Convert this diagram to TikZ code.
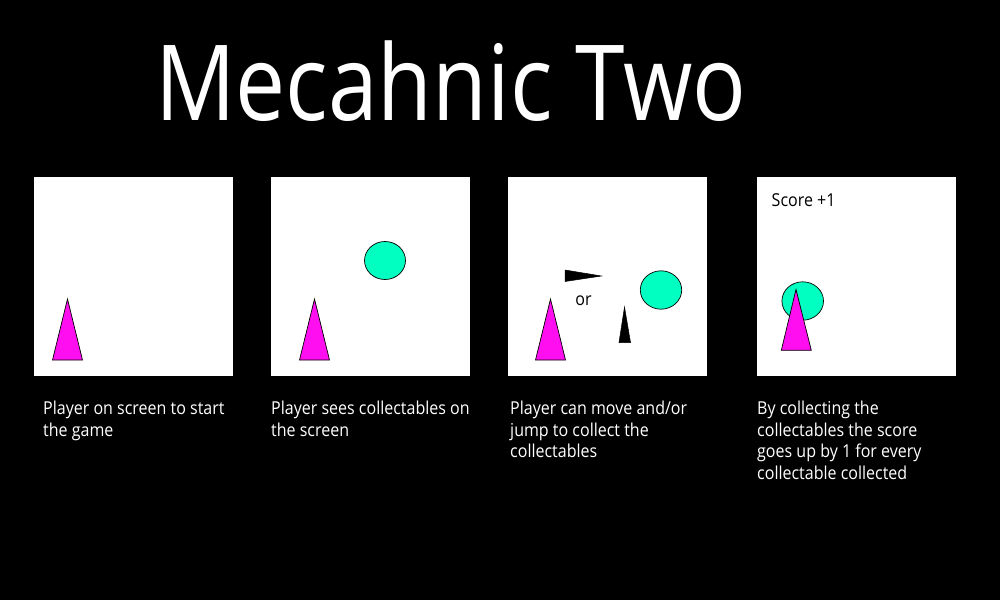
\documentclass[tikz,border=0pt]{standalone}
\usepackage{fontspec}
\setmainfont[FakeStretch=0.9]{Open Sans}
\newfontfamily\titlefont[FakeStretch=0.85]{Open Sans}
\definecolor{mag}{HTML}{FF0FF0}
\definecolor{mint}{HTML}{00FFC0}
\tikzset{
  panel/.style={fill=white, draw=none},
  player/.style={fill=mag, draw=black, line width=0.7pt, line join=miter},
  coin/.style={fill=mint, draw=black, line width=0.7pt},
  dart/.style={fill=black, draw=black, line width=0.5pt},
  caption/.style={anchor=base west, inner sep=0pt, text=white, font=\fontsize{17.8}{21.7}\selectfont},
}
\begin{document}
\begin{tikzpicture}[x=1pt,y=-1pt]
\fill[black] (0,0) rectangle (1000,600);
\useasboundingbox (0,0) rectangle (1000,600);
% title
\node[anchor=base west, inner sep=0pt, text=white, font=\titlefont\fontsize{105}{105}\selectfont] (title) at (155,120) {Mecahnic Two};
% panels
\fill[panel] (34,177) rectangle (233,376);
\fill[panel] (271,177) rectangle (470,376);
\fill[panel] (508,177) rectangle (707,376);
\fill[panel] (757,177) rectangle (956,376);
% panel 1
\draw[player] (67.5,299) -- (82.5,360) -- (52.5,360) -- cycle;
% panel 2
\draw[coin] (385,260.5) ellipse [x radius=20.5, y radius=19];
\draw[player] (314.5,299) -- (329.5,360) -- (299.5,360) -- cycle;
% panel 3
\draw[player] (550.5,299) -- (565.5,360) -- (535.5,360) -- cycle;
\draw[dart] (565,270) -- (601.5,276) -- (565,281.5) -- cycle;
\node[inner sep=0pt, font=\fontsize{17.8}{21}\selectfont] (or) at (583.5,300.5) {or};
\draw[dart] (624.5,307) -- (630.5,342.5) -- (619,342.5) -- cycle;
\draw[coin] (661,290) ellipse [x radius=20.7, y radius=19.2];
% panel 4
\node[anchor=base west, inner sep=0pt, font=\fontsize{17.8}{21}\selectfont] (score) at (771.5,206) {Score +1};
\draw[coin] (802.7,301) ellipse [x radius=20.8, y radius=19.2];
\draw[player] (796,289.5) -- (811.3,350.3) -- (781.3,350.3) -- cycle;
% captions
\node[caption] (c1) at (43,414.3) {\vtop{\baselineskip=21.7pt\hbox{Player on screen to start}\hbox{the game}}};
\node[caption] (c2) at (271,414.3) {\vtop{\baselineskip=21.7pt\hbox{Player sees collectables on}\hbox{the screen}}};
\node[caption] (c3) at (510,414.3) {\vtop{\baselineskip=21.7pt\hbox{Player can move and/or}\hbox{jump to collect the}\hbox{collectables}}};
\node[caption] (c4) at (757,414.3) {\vtop{\baselineskip=21.7pt\hbox{By collecting the}\hbox{collectables the score}\hbox{goes up by 1 for every}\hbox{collectable collected}}};
\end{tikzpicture}
\end{document}
